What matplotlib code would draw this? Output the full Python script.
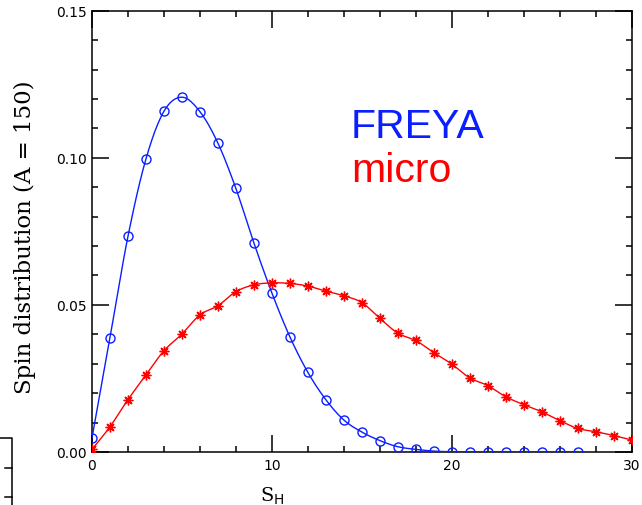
import numpy as np
import matplotlib
matplotlib.use("Agg")
import matplotlib.pyplot as plt
from matplotlib.lines import Line2D

# Spin distributions for A = 150
spin_freya = list(range(0, 28))
dist_freya = [0.0048, 0.0389, 0.0733, 0.0996, 0.1158, 0.1206, 0.1157, 0.1050,
              0.0896, 0.0711, 0.0541, 0.0392, 0.0271, 0.0178, 0.0109, 0.0068,
              0.0039, 0.0018, 0.0009, 0.0003, 0.0001, 0.0, 0.0, 0.0,
              0.0, 0.0, 0.0, 0.0]

spin_micro = list(range(0, 31))
dist_micro = [0.0009, 0.0086, 0.0178, 0.0262, 0.0344, 0.0401, 0.0466, 0.0497,
              0.0545, 0.0568, 0.0575, 0.0573, 0.0564, 0.0547, 0.0531, 0.0508,
              0.0455, 0.0404, 0.0379, 0.0338, 0.0299, 0.0252, 0.0226, 0.0188,
              0.0161, 0.0137, 0.0107, 0.0080, 0.0069, 0.0056, 0.0041]

x_ticks = [0, 10, 20, 30]
y_ticks = [0.00, 0.05, 0.10, 0.15]


def smooth_path(x, y, n=12):
    """Catmull-Rom curve through the given points (for drawing the line only)."""
    x = np.asarray(x, float)
    y = np.asarray(y, float)
    px = np.concatenate([[2 * x[0] - x[1]], x, [2 * x[-1] - x[-2]]])
    py = np.concatenate([[2 * y[0] - y[1]], y, [2 * y[-1] - y[-2]]])
    t = np.linspace(0, 1, n, endpoint=False)
    xs, ys = [], []
    for i in range(1, len(px) - 2):
        for arr, out in ((px, xs), (py, ys)):
            p0, p1, p2, p3 = arr[i - 1], arr[i], arr[i + 1], arr[i + 2]
            out.extend(0.5 * ((2 * p1) + (-p0 + p2) * t
                              + (2 * p0 - 5 * p1 + 4 * p2 - p3) * t ** 2
                              + (-p0 + 3 * p1 - 3 * p2 + p3) * t ** 3))
    xs.append(x[-1])
    ys.append(y[-1])
    return np.array(xs), np.array(ys)


W, H = 642, 506
fig = plt.figure(figsize=(W / 100, H / 100), dpi=100)
ax = fig.add_axes([92 / W, (H - 453) / H, (631.5 - 92) / W, (453 - 11.7) / H])

blue = "#0a1eff"
red = "#ff0000"

fx, fy = smooth_path(spin_freya, dist_freya)
ax.plot(fx, fy, color=blue, lw=1.0, zorder=3)
ax.plot(spin_freya, dist_freya, ls="none", marker="o", ms=6.5, mfc="none",
        mec=blue, mew=1.0, zorder=4)

mx, my = smooth_path(spin_micro, dist_micro)
ax.plot(mx, my, color=red, lw=1.0, zorder=3)
ax.plot(spin_micro, dist_micro, ls="none", marker=(8, 2, 0), ms=7,
        mec=red, mfc=red, mew=1.0, zorder=4)

ax.set_xlim(0, 30)
ax.set_ylim(0, 0.15)
ax.set_xticks(x_ticks)
ax.set_xticklabels([str(v) for v in x_ticks])
ax.set_yticks(y_ticks)
ax.set_yticklabels([f"{v:.2f}" for v in y_ticks])
ax.set_xticks(np.arange(0, 31, 2), minor=True)
ax.set_yticks(np.arange(0, 0.151, 0.01), minor=True)

ax.tick_params(which="both", direction="in", top=True, right=True,
               width=1.1, colors="black", labelsize=10)
ax.tick_params(which="major", length=12, pad=4)
ax.tick_params(which="minor", length=4.5)
for s in ax.spines.values():
    s.set_linewidth(1.1)

ax.set_ylabel("Spin distribution (A = 150)", family="DejaVu Serif", fontsize=16.5)
ax.yaxis.set_label_coords(-0.103, 0.49)

fig.text(272 / W, 1 - 486 / H, r"S$_\mathrm{H}$", family="DejaVu Serif",
         fontsize=14, ha="center", va="top")

ax.text(351 / W, 1 - 138.5 / H, "FREYA", transform=fig.transFigure,
        color=blue, family="Liberation Sans", fontsize=29.5, va="baseline")
ax.text(351 / W, 1 - 181.7 / H, "micro", transform=fig.transFigure,
        color=red, family="Liberation Sans", fontsize=29.5, va="baseline")

# edge of a neighbouring panel at the lower-left corner
edge = dict(color="black", lw=1.1, transform=fig.transFigure)
fig.add_artist(Line2D([0, 12 / W, 12 / W], [1 - 439 / H, 1 - 439 / H, 0], **edge))
for yy in (469, 498):
    fig.add_artist(Line2D([5.5 / W, 12 / W], [1 - yy / H, 1 - yy / H], **edge))

fig.savefig("out.png", dpi=100)
